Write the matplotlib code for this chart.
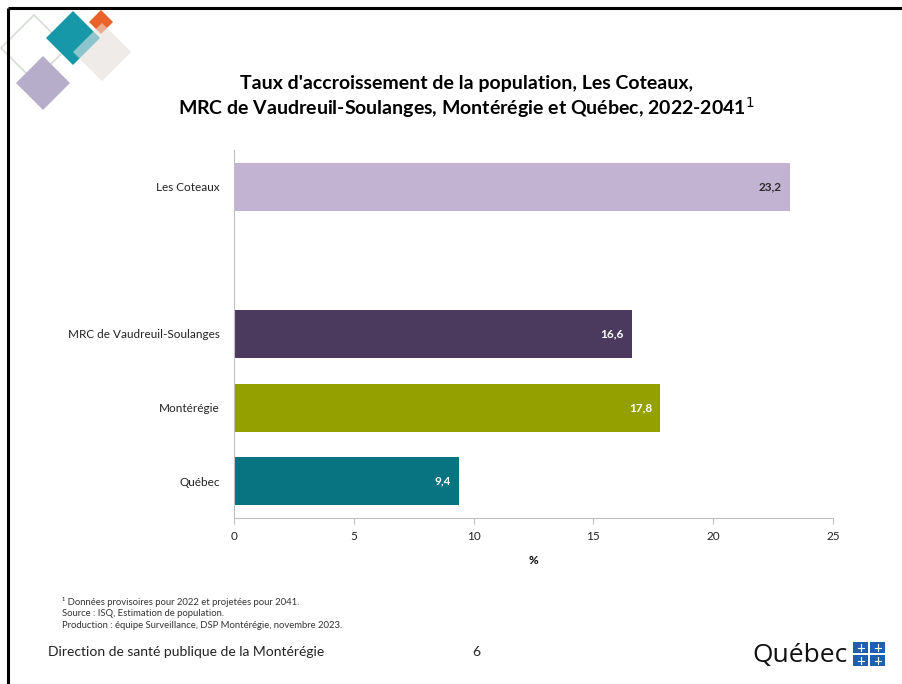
import matplotlib
matplotlib.use("Agg")
import matplotlib.pyplot as plt
from matplotlib.patches import Polygon, Rectangle

categories = ["Québec", "Montérégie", "MRC de Vaudreuil-Soulanges", "", "Les Coteaux"]
values = [9.4, 17.8, 16.6, None, 23.2]
bar_colors = ["#087381", "#94A000", "#4B3A5E", "none", "#C1B3D1"]
label_colors = ["white", "white", "white", "none", "#2b2b2b"]
value_labels = ["9,4", "17,8", "16,6", "", "23,2"]
xticks = [0, 5, 10, 15, 20, 25]

FONT = "Lato"
plt.rcParams["font.family"] = [FONT, "DejaVu Sans"]

W, H = 902, 684
fig = plt.figure(figsize=(W / 100, H / 100), dpi=100)
fig.patch.set_facecolor("white")

# overlay in pixel coordinates for slide decorations
ov = fig.add_axes([0, 0, 1, 1], zorder=0)
ov.set_xlim(0, W)
ov.set_ylim(H, 0)
ov.axis("off")

def diamond(cx, cy, r, **kw):
    ov.add_patch(Polygon([(cx, cy - r), (cx + r, cy), (cx, cy + r), (cx - r, cy)], closed=True, **kw))

diamond(34, 48, 33, facecolor="none", edgecolor="#D5DCD4", lw=1.2)
diamond(102, 52, 29, facecolor="#EEEBE8", edgecolor="none")
diamond(73, 38, 27, facecolor="#1798A8", edgecolor="none")
diamond(101, 22, 12, facecolor="#E8622A", edgecolor="none")
diamond(102, 52, 29, facecolor="#EEEBE8", edgecolor="none", alpha=0.55)
diamond(43, 83, 27, facecolor="#B5ADC9", edgecolor="none")

# slide border
ov.plot([8, 8], [H, 8], color="black", lw=2.2, solid_capstyle="butt")
ov.plot([8, W], [8, 8], color="black", lw=2.2, solid_capstyle="butt")

# title
ov.text(467, 83, "Taux d'accroissement de la population, Les Coteaux,", ha="center", va="center",
        fontsize=14, fontweight="bold", color="black")
ov.text(466, 108, "MRC de Vaudreuil-Soulanges, Montérégie et Québec, 2022-2041$^{1}$", ha="center", va="center",
        fontsize=14, fontweight="bold", color="black")

# footnotes
notes = ["¹ Données provisoires pour 2022 et projetées pour 2041.",
         "Source : ISQ, Estimation de population.",
         "Production : équipe Surveillance, DSP Montérégie, novembre 2023."]
for i, t in enumerate(notes):
    ov.text(62, 602 + i * 12, t, ha="left", va="center", fontsize=6.8, color="#333333")

ov.text(48, 652, "Direction de santé publique de la Montérégie", ha="left", va="center",
        fontsize=10, color="#222222")
ov.text(476, 652, "6", ha="center", va="center", fontsize=10, color="#222222")

# Québec logo
ov.text(848, 655, "Québec", ha="right", va="center", fontsize=19, color="#111111",
        family=["Open Sans", "DejaVu Sans"])
for (x0, y0) in [(853, 642), (870, 642), (853, 655), (870, 655)]:
    ov.add_patch(Rectangle((x0, y0), 15, 11, facecolor="#1F5FAF", edgecolor="none"))
    ov.plot([x0 + 7.5, x0 + 7.5], [y0 + 2, y0 + 9], color="white", lw=0.8)
    ov.plot([x0 + 4.5, x0 + 10.5], [y0 + 5.5, y0 + 5.5], color="white", lw=0.8)

# chart
ax = fig.add_axes([234 / W, 1 - 518 / H, (833 - 234) / W, (518 - 150) / H], zorder=1)
ax.patch.set_alpha(0)
ypos = list(range(len(categories)))
for y, v, c, lc, vl in zip(ypos, values, bar_colors, label_colors, value_labels):
    if v is None:
        continue
    ax.barh(y, v, height=0.65, color=c, edgecolor="none")
    ax.text(v - 0.35, y, vl, ha="right", va="center", fontsize=8.5, fontweight="bold", color=lc)

ax.set_xlim(0, 25)
ax.set_ylim(-0.5, 4.5)
ax.set_xticks(xticks)
ax.set_xticklabels([str(t) for t in xticks], fontsize=8.5, color="#222222")
ax.set_yticks(ypos)
ax.set_yticklabels(categories, fontsize=8.5, color="#222222")
ax.tick_params(axis="y", length=0, pad=10)
ax.tick_params(axis="x", length=4, color="#BFBFBF", pad=5)
for s in ["top", "right"]:
    ax.spines[s].set_visible(False)
ax.spines["left"].set_color("#BFBFBF")
ax.spines["bottom"].set_color("#BFBFBF")
ax.set_xlabel("%", fontsize=8.5, fontweight="bold", labelpad=10)

fig.savefig("out.png", dpi=100)
